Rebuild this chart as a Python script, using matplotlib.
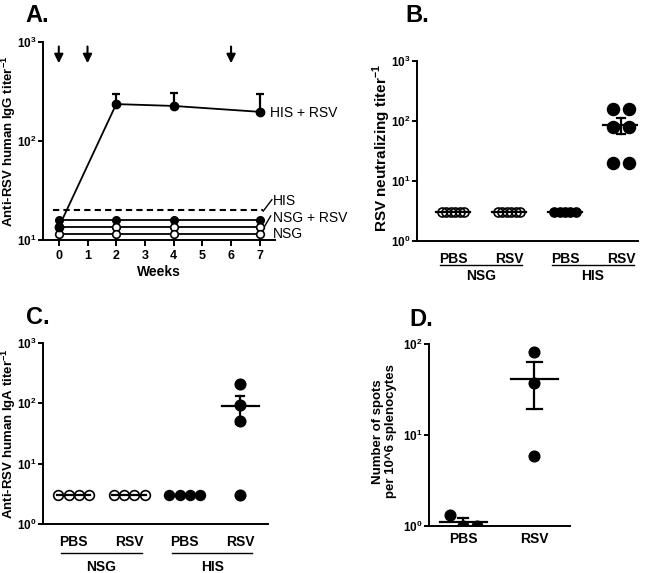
import numpy as np
import matplotlib
matplotlib.use('Agg')
import matplotlib.pyplot as plt

plt.rcParams['font.family'] = ['Liberation Sans', 'DejaVu Sans']
plt.rcParams['mathtext.fontset'] = 'custom'
plt.rcParams['mathtext.rm'] = 'Liberation Sans'
plt.rcParams['mathtext.bf'] = 'Liberation Sans:bold'

# ---- data ----
# A: IgG titer over time
weeks = [0, 2, 4, 7]
his_rsv = [13.5, 236, 226, 197]
his_rsv_err = [0, 60, 81, 100]
his_ctrl = [16, 16, 16, 16]
nsg_rsv = [13.4, 13.4, 13.4, 13.4]
nsg_pbs = [11.6, 11.6, 11.6, 11.6]
his_dashed = 20
arrow_weeks = [0, 1, 6]

# B: neutralizing titer
b_groups = ['PBS', 'RSV', 'PBS', 'RSV']
b_nsg_pbs = [3, 3, 3, 3, 3, 3]
b_nsg_rsv = [3, 3, 3, 3, 3, 3]
b_his_pbs = [3, 3, 3, 3, 3]
b_his_rsv = [160, 160, 80, 80, 20, 20]

# C: IgA titer
c_nsg_pbs = [3, 3, 3, 3]
c_nsg_rsv = [3, 3, 3, 3]
c_his_pbs = [3, 3, 3, 3]
c_his_rsv = [210, 95, 50, 3]

# D: spots per 10^6 splenocytes
d_groups = ['PBS', 'RSV']
d_pbs = [1.33, 1.0, 1.0]
d_rsv = [81, 37, 5.9]

LW = 1.4
fig = plt.figure(figsize=(6.5, 5.73), dpi=100)


def style_axis(ax, ylim, decades, xticks_len=0):
    ax.set_yscale('log')
    ax.set_ylim(*ylim)
    ax.set_yticks([10.0 ** d for d in decades])
    ax.set_yticklabels([r'$\mathbf{10^{%d}}$' % d for d in decades])
    ax.yaxis.set_minor_locator(matplotlib.ticker.NullLocator())
    for s in ['top', 'right']:
        ax.spines[s].set_visible(False)
    for s in ['left', 'bottom']:
        ax.spines[s].set_linewidth(LW)
    ax.tick_params(axis='y', direction='out', length=3.5, width=LW, labelsize=8.5, pad=1)
    ax.tick_params(axis='x', direction='out', length=xticks_len, width=LW, labelsize=9)
    for lab in ax.get_xticklabels():
        lab.set_fontweight('bold')


def dot_group(ax, xc, vals, offsets, filled, ms, half=0.3, cap=0.07):
    vals = np.array(vals, dtype=float)
    fc = 'black' if filled else 'none'
    ax.plot(xc + np.array(offsets), vals, 'o', ms=ms, mfc=fc, mec='black', mew=1.2,
            ls='none', zorder=3)
    m = vals.mean()
    sem = vals.std(ddof=1) / np.sqrt(len(vals))
    ax.plot([xc - half, xc + half], [m, m], color='black', lw=1.6, zorder=4)
    if sem > 0:
        ax.plot([xc, xc], [m - sem, m + sem], color='black', lw=1.6, zorder=4)
        ax.plot([xc - cap, xc + cap], [m + sem, m + sem], color='black', lw=1.6, zorder=4)
        ax.plot([xc - cap, xc + cap], [m - sem, m - sem], color='black', lw=1.6, zorder=4)


def group_bars(ax, y_line, y_text):
    tr = ax.get_xaxis_transform()
    for (x0, x1, name) in [(0.77, 2.23, 'NSG'), (2.77, 4.22, 'HIS')]:
        ax.plot([x0, x1], [y_line, y_line], color='black', lw=1.0, transform=tr, clip_on=False)
        ax.text((x0 + x1) / 2, y_text, name, transform=tr, ha='center', va='center',
                fontsize=10, fontweight='bold')


# ---- A ----
axA = fig.add_axes([43 / 650, 1 - 240 / 573, 232 / 650, 198 / 573])
axA.plot([-0.2, 7.1], [his_dashed, his_dashed], color='black', lw=1.5, ls=(0, (3, 2)))
axA.plot(weeks, his_ctrl, '-o', color='black', ms=5.5, lw=1.3, zorder=3)
axA.plot(weeks, nsg_rsv, '-o', color='black', mfc='white', ms=5.5, mew=1.2, lw=1.3, zorder=3)
axA.plot(weeks, nsg_pbs, '-o', color='black', mfc='white', ms=5.5, mew=1.2, lw=1.3, zorder=3)
axA.errorbar(weeks, his_rsv, yerr=[[0] * 4, his_rsv_err], fmt='-o', color='black', ms=6,
             lw=1.3, elinewidth=1.6, capsize=3, capthick=1.6, zorder=4)
for w in arrow_weeks:
    axA.annotate('', xy=(w, 610), xytext=(w, 900),
                 arrowprops=dict(arrowstyle='-|>', color='black', lw=1.5, mutation_scale=13,
                                 shrinkA=0, shrinkB=0))
axA.text(7.35, 192, 'HIS + RSV', fontsize=10, va='center', ha='left')
axA.text(7.46, 25, 'HIS', fontsize=10, va='center', ha='left')
axA.text(7.46, 16.7, 'NSG + RSV', fontsize=10, va='center', ha='left')
axA.text(7.46, 11.5, 'NSG', fontsize=10, va='center', ha='left')
axA.plot([7.12, 7.42], [19.6, 25.5], color='black', lw=1.0, clip_on=False)
axA.plot([7.12, 7.38], [13.0, 17.5], color='black', lw=1.0, clip_on=False)
axA.set_xlim(-0.55, 7.53)
axA.set_xticks(range(8))
style_axis(axA, (10, 1000), [1, 2, 3], xticks_len=4)
axA.set_xticklabels([str(i) for i in range(8)], fontweight='bold')
axA.set_xlabel('Weeks', fontsize=10, fontweight='bold', labelpad=2)
axA.set_ylabel(r'Anti-RSV human IgG titer$^{\mathbf{-1}}$', fontsize=9.5,
               fontweight='bold')
axA.yaxis.set_label_coords(-0.108, 0.5)

# ---- B ----
axB = fig.add_axes([417 / 650, 1 - 241 / 573, 221 / 650, 180 / 573])
spread6 = np.linspace(-0.2, 0.2, 6)
dot_group(axB, 1, b_nsg_pbs, spread6, False, 6.5)
dot_group(axB, 2, b_nsg_rsv, spread6, False, 6.5)
dot_group(axB, 3, b_his_pbs, np.linspace(-0.19, 0.19, 5), True, 6.5)
dot_group(axB, 4, b_his_rsv, [-0.14, 0.14, -0.14, 0.14, -0.14, 0.14], True, 8.5, half=0.32)
axB.set_xlim(0.36, 4.3)
axB.set_xticks([1, 2, 3, 4])
axB.set_xticklabels(b_groups)
style_axis(axB, (1, 1000), [0, 1, 2, 3])
axB.tick_params(axis='x', pad=8)
group_bars(axB, -0.135, -0.195)
axB.set_ylabel(r'RSV neutralizing titer$^{\mathbf{-1}}$', fontsize=11,
               fontweight='bold')
axB.yaxis.set_label_coords(-0.11, 0.52)

# ---- C ----
axC = fig.add_axes([43 / 650, 1 - 524 / 573, 225 / 650, 181 / 573])
spread4 = [-0.28, -0.09, 0.09, 0.28]
dot_group(axC, 1, c_nsg_pbs, spread4, False, 7)
dot_group(axC, 2, c_nsg_rsv, spread4, False, 7)
dot_group(axC, 3, c_his_pbs, spread4, True, 7)
dot_group(axC, 4, c_his_rsv, [0, 0, 0, 0], True, 7.5, half=0.33)
axC.set_xlim(0.45, 4.5)
axC.set_xticks([1, 2, 3, 4])
axC.set_xticklabels(b_groups)
style_axis(axC, (1, 1000), [0, 1, 2, 3])
axC.tick_params(axis='x', pad=8)
group_bars(axC, -0.16, -0.235)
axC.set_ylabel(r'Anti-RSV human IgA titer$^{\mathbf{-1}}$', fontsize=9.5,
               fontweight='bold')
axC.yaxis.set_label_coords(-0.112, 0.5)

# ---- D ----
axD = fig.add_axes([429 / 650, 1 - 526 / 573, 141 / 650, 182 / 573])
dot_group(axD, 1, d_pbs, [-0.19, 0, 0.19], True, 7.5, half=0.33, cap=0.07)
dot_group(axD, 2, d_rsv, [0, 0, 0], True, 7.5, half=0.33, cap=0.1)
axD.set_xlim(0.52, 2.5)
axD.set_xticks([1, 2])
axD.set_xticklabels(d_groups)
style_axis(axD, (1, 100), [0, 1, 2])
axD.tick_params(axis='x', pad=4)
axD.set_ylabel('Number of spots\nper 10^6 splenocytes', fontsize=9.5,
               fontweight='bold', linespacing=1.05)
axD.yaxis.set_label_coords(-0.23, 0.52)
for ax in (axB, axC, axD):
    for lab in ax.get_xticklabels():
        lab.set_fontweight('bold')
        lab.set_fontsize(10)

# panel letters
fig.text(25 / 650, 1 - 22 / 573, 'A.', fontsize=17, fontweight='bold', va='baseline')
fig.text(405 / 650, 1 - 22 / 573, 'B.', fontsize=17, fontweight='bold', va='baseline')
fig.text(26 / 650, 1 - 324 / 573, 'C.', fontsize=17, fontweight='bold', va='baseline')
fig.text(409 / 650, 1 - 326 / 573, 'D.', fontsize=17, fontweight='bold', va='baseline')

fig.savefig('out.png', dpi=100)
